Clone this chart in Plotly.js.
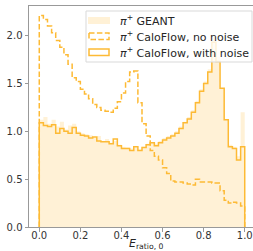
<!DOCTYPE html>
<html>
<head>
<meta charset="utf-8">
<script src="https://cdn.plot.ly/plotly-3.0.1.min.js"></script>
<style>
html,body{margin:0;padding:0;overflow:hidden;background:#fff;}
#plot{width:258px;height:251px;}
</style>
</head>
<body>
<div id="plot"></div>
<script>
// Histogram bins: 50 bins on [0, 1]
const binLo = 0.0;
const binHi = 1.0;
const nBins = 50;

// pi+ GEANT (filled)
const geant = [1.12, 1.15, 1.08, 1.12, 1.05, 1.10, 1.02, 1.06, 1.08, 1.00,
               0.98, 0.97, 0.96, 0.93, 0.95, 0.90, 0.92, 0.88, 0.90, 0.86,
               0.84, 0.83, 0.82, 0.83, 0.81, 0.84, 0.87, 0.88, 0.87, 0.90,
               0.93, 0.95, 0.97, 1.00, 1.05, 1.10, 1.15, 1.22, 1.32, 1.44,
               1.52, 1.65, 2.00, 1.78, 1.45, 1.12, 0.86, 0.84, 0.74, 1.20];

// pi+ CaloFlow, no noise (dashed)
const noNoise = [2.21, 2.17, 2.10, 2.03, 1.95, 1.88, 1.80, 1.70, 1.56, 1.52,
                 1.44, 1.39, 1.34, 1.28, 1.25, 1.22, 1.21, 1.20, 1.24, 1.31,
                 1.40, 1.52, 1.62, 1.63, 1.30, 1.08, 0.95, 0.80, 0.74, 0.70,
                 0.62, 0.56, 0.48, 0.47, 0.47, 0.46, 0.45, 0.44, 0.50, 0.47,
                 0.47, 0.47, 0.46, 0.46, 0.38, 0.28, 0.25, 0.26, 0.25, 0.22];

// pi+ CaloFlow, with noise (solid)
const withNoise = [1.09, 1.06, 1.05, 1.07, 0.98, 1.03, 1.00, 0.98, 1.04, 0.98,
                   0.96, 0.95, 0.93, 0.94, 0.90, 0.89, 0.89, 0.87, 0.92, 0.85,
                   0.82, 0.82, 0.80, 0.84, 0.80, 0.83, 0.86, 0.88, 0.85, 0.88,
                   0.91, 0.93, 0.95, 0.98, 1.03, 1.09, 1.13, 1.20, 1.30, 1.42,
                   1.50, 1.62, 1.93, 1.73, 1.45, 1.12, 0.84, 0.82, 0.70, 0.84];

const labels = ["<i>π</i><sup>+</sup> GEANT",
                "<i>π</i><sup>+</sup> CaloFlow, no noise",
                "<i>π</i><sup>+</sup> CaloFlow, with noise"];
const xTicks = [0, 0.2, 0.4, 0.6, 0.8, 1.0];
const xTickText = ["0.0", "0.2", "0.4", "0.6", "0.8", "1.0"];
const yTicks = [0, 0.5, 1.0, 1.5, 2.0];
const yTickText = ["0.0", "0.5", "1.0", "1.5", "2.0"];

const lineColor = "#FDBA35";
const fillColor = "#FFF1D6";

function stepXY(vals) {
  const w = (binHi - binLo) / nBins;
  const x = [binLo], y = [0];
  for (let i = 0; i < vals.length; i++) {
    x.push(binLo + i * w);
    y.push(vals[i]);
  }
  x.push(binHi); y.push(vals[vals.length - 1]);
  x.push(binHi); y.push(0);
  return {x, y};
}

const g = stepXY(geant), d = stepXY(noNoise), s = stepXY(withNoise);

const traces = [
  {x: g.x, y: g.y, type: "scatter", mode: "lines", line: {shape: "hv", width: 0, color: fillColor},
   fill: "tozeroy", fillcolor: fillColor, hoverinfo: "skip"},
  {x: d.x, y: d.y, type: "scatter", mode: "lines", line: {shape: "hv", width: 1.5, color: lineColor, dash: "5.5px,2.4px"},
   hoverinfo: "skip"},
  {x: s.x, y: s.y, type: "scatter", mode: "lines", line: {shape: "hv", width: 1.5, color: lineColor},
   hoverinfo: "skip"}
];

// pixel helpers (plot area: x 29..255, y 6..227)
const L = 29, T = 6, PW = 226, PH = 221;
const px = v => (v - L) / PW;
const py = v => (T + PH - v) / PH;

const shapes = [
  {type: "rect", xref: "paper", yref: "paper", x0: px(86), x1: px(252), y0: py(11), y1: py(62),
   line: {color: "#d9d9d9", width: 1}, fillcolor: "rgba(255,255,255,0.8)", layer: "above"},
  {type: "rect", xref: "paper", yref: "paper", x0: px(88), x1: px(110), y0: py(17), y1: py(24),
   line: {width: 0}, fillcolor: fillColor, layer: "above"},
  {type: "rect", xref: "paper", yref: "paper", x0: px(89), x1: px(109), y0: py(33), y1: py(39.5),
   line: {width: 1.5, color: lineColor, dash: "5.5px,2.4px"}, fillcolor: "rgba(0,0,0,0)", layer: "above"},
  {type: "rect", xref: "paper", yref: "paper", x0: px(89), x1: px(109), y0: py(49), y1: py(55.5),
   line: {width: 1.5, color: lineColor}, fillcolor: "rgba(0,0,0,0)", layer: "above"}
];

const annFont = {family: "DejaVu Sans", size: 11, color: "#262626"};
const annotations = [
  {xref: "paper", yref: "paper", x: px(118), y: py(20.5), xanchor: "left", yanchor: "middle", text: labels[0], showarrow: false, font: annFont},
  {xref: "paper", yref: "paper", x: px(118), y: py(36.5), xanchor: "left", yanchor: "middle", text: labels[1], showarrow: false, font: annFont},
  {xref: "paper", yref: "paper", x: px(118), y: py(52.5), xanchor: "left", yanchor: "middle", text: labels[2], showarrow: false, font: annFont},
  {xref: "paper", yref: "paper", x: px(146), y: py(243.5), xanchor: "center", yanchor: "middle",
   text: "<i>E</i><sub>ratio, 0</sub>", showarrow: false, font: {family: "DejaVu Sans", size: 11, color: "#262626"}}
];

const axisCommon = {
  showgrid: false, zeroline: false, showline: true, mirror: true, linecolor: "#999999", linewidth: 1,
  ticks: "outside", ticklen: 3.5, tickwidth: 1, tickcolor: "#999999",
  tickfont: {family: "DejaVu Sans", size: 10, color: "#333333"}
};

const layout = {
  width: 258, height: 251,
  margin: {l: L, r: 258 - L - PW, t: T, b: 251 - T - PH},
  paper_bgcolor: "#ffffff", plot_bgcolor: "#ffffff",
  showlegend: false,
  xaxis: Object.assign({}, axisCommon, {range: [-0.05, 1.05], tickmode: "array", tickvals: xTicks, ticktext: xTickText, ticklabelstandoff: -5}),
  yaxis: Object.assign({}, axisCommon, {range: [0, 2.31], tickmode: "array", tickvals: yTicks, ticktext: yTickText}),
  shapes: shapes,
  annotations: annotations
};

Plotly.newPlot("plot", traces, layout, {staticPlot: true, displayModeBar: false});
</script>
</body>
</html>
